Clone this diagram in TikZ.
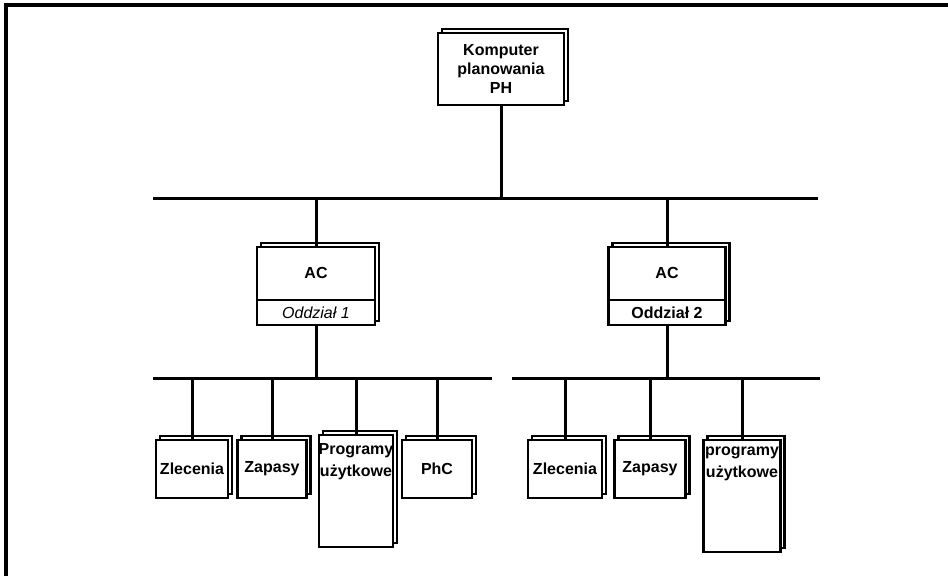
\documentclass[tikz,border=0pt]{standalone}
\usepackage{fontspec}
\setmainfont{Liberation Sans}
\usetikzlibrary{shadows}
\begin{document}
\begin{tikzpicture}[x=1pt,y=-1pt,
  conn/.style={line width=3pt},
  page/.style={draw, line width=2.8pt, fill=white, inner sep=0pt,
    general shadow={shadow xshift=4pt, shadow yshift=4pt, draw, fill=white, line width=2.4pt}},
  lbl/.style={font=\fontsize{16}{19}\selectfont\bfseries, align=center, inner sep=0pt},
]
\useasboundingbox (0,0) rectangle (948,576);
\draw[line width=3.2pt] (6,576) -- (6,5) -- (948,5);

% buses
\coordinate (b1l) at (153,198); \coordinate (b1r) at (818,198);
\coordinate (b2l) at (153,378); \coordinate (b2r) at (492,378);
\coordinate (b3l) at (512,378); \coordinate (b3r) at (820,378);
\draw[conn] (b1l) -- (b1r);
\draw[conn] (b2l) -- (b2r);
\draw[conn] (b3l) -- (b3r);

% top computer
\node[page, lbl, minimum width=126pt, minimum height=72pt] (top) at (501,69) {Komputer\\planowania\\PH};
\draw[conn] (top.south) -- (top.south |- b1l);

% AC boxes
\node[page, minimum width=118pt, minimum height=78pt] (ac1) at (316,286) {};
\draw[line width=2.2pt] ([yshift=-14pt]ac1.west) -- ([yshift=-14pt]ac1.east);
\node[lbl] (ac1a) at (316,273) {AC};
\node[font=\fontsize{16}{18}\selectfont\itshape, inner sep=0pt] (ac1b) at (316,313) {Oddział 1};
\draw[conn] (ac1.north) -- (ac1.north |- b1l);
\draw[conn] (ac1.south) -- (ac1.south |- b2l);

\node[page, minimum width=117pt, minimum height=78pt] (ac2) at (667,286) {};
\draw[line width=2.2pt] ([yshift=-14pt]ac2.west) -- ([yshift=-14pt]ac2.east);
\node[lbl] (ac2a) at (667,273) {AC};
\node[lbl] (ac2b) at (667,313) {Oddział 2};
\draw[conn] (ac2.north) -- (ac2.north |- b1l);
\draw[conn] (ac2.south) -- (ac2.south |- b3l);

% left group
\node[page, lbl, minimum width=72pt, minimum height=58pt] (l1) at (192,469) {Zlecenia};
\node[page, lbl, minimum width=69pt, minimum height=58pt] (l2) at (272,469) {Zapasy};
\node[page, minimum width=74pt, minimum height=112pt] (l3) at (356,491) {};
\node[lbl, font=\fontsize{16}{22}\selectfont\bfseries, anchor=north] (l3t) at (356,443) {Programy\\użytkowe};
\node[page, lbl, minimum width=70pt, minimum height=58pt] (l4) at (437,469) {PhC};
\foreach \n in {l1,l2,l3,l4} \draw[conn] (\n.north) -- (\n.north |- b2l);

% right group
\node[page, lbl, minimum width=74pt, minimum height=58pt] (r1) at (565,469) {Zlecenia};
\node[page, lbl, minimum width=71pt, minimum height=58pt] (r2) at (650,469) {Zapasy};
\node[page, minimum width=77pt, minimum height=112pt] (r3) at (742,496) {};
\node[lbl, font=\fontsize{16}{22}\selectfont\bfseries, anchor=north] (r3t) at (742,447) {programy\\użytkowe};
\foreach \n in {r1,r2,r3} \draw[conn] (\n.north) -- (\n.north |- b3l);
\end{tikzpicture}
\end{document}
